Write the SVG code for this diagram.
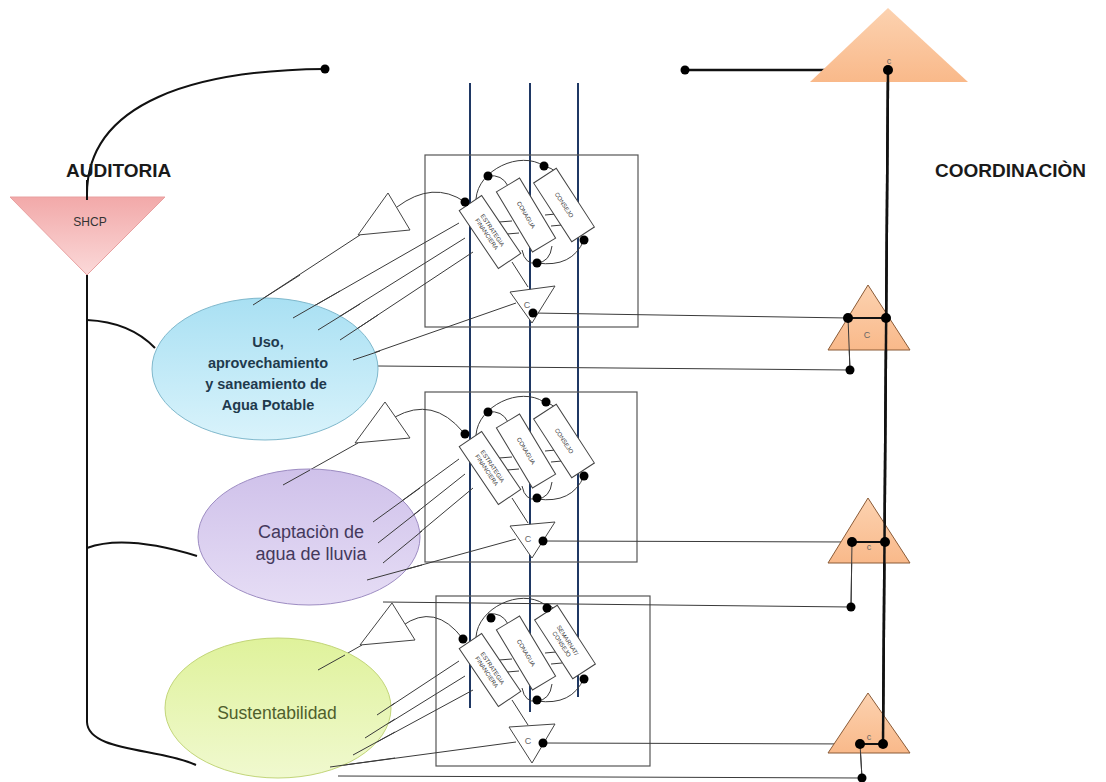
<svg xmlns="http://www.w3.org/2000/svg" width="1106" height="782" viewBox="0 0 1106 782">
  <defs>
    <linearGradient id="gPink" x1="0" y1="0" x2="0" y2="1">
      <stop offset="0" stop-color="#f2a9a9"/>
      <stop offset="1" stop-color="#fbd9d9"/>
    </linearGradient>
    <linearGradient id="gOrange" x1="0" y1="0" x2="0" y2="1">
      <stop offset="0" stop-color="#fcd2b0"/>
      <stop offset="1" stop-color="#f9b98a"/>
    </linearGradient>
    <linearGradient id="gBlue" x1="0" y1="0" x2="0" y2="1">
      <stop offset="0" stop-color="#a9e0f3"/>
      <stop offset="1" stop-color="#d9f3fb"/>
    </linearGradient>
    <linearGradient id="gPurple" x1="0" y1="0" x2="0" y2="1">
      <stop offset="0" stop-color="#cfc1ea"/>
      <stop offset="1" stop-color="#e6ddf5"/>
    </linearGradient>
    <linearGradient id="gGreen" x1="0" y1="0" x2="0" y2="1">
      <stop offset="0" stop-color="#dff29b"/>
      <stop offset="1" stop-color="#f0f9cf"/>
    </linearGradient>
    <style>
      .thin { fill: none; stroke: #3a3a3a; stroke-width: 1; }
      .thick { fill: none; stroke: #111; stroke-width: 2.5; }
      .mid { fill: none; stroke: #111; stroke-width: 2; }
      .axis { fill: none; stroke: #1f3864; stroke-width: 2; }
      .frame { fill: none; stroke: #555; stroke-width: 1.2; }
      .dot { fill: #000; }
      .card { fill: #fff; stroke: #444; stroke-width: 1; }
      .tri { fill: #fff; stroke: #444; stroke-width: 1; }
      .ctri { fill: url(#gOrange); stroke: #8a5a36; stroke-width: 1; }
      .cardtxt { font-family: "Liberation Sans", Arial, sans-serif; font-size: 6px; fill: #333; text-anchor: middle; }
      .head { font-family: "Liberation Sans", Arial, sans-serif; font-size: 19px; font-weight: bold; fill: #1a1a1a; }
      .small { font-family: "Liberation Sans", Arial, sans-serif; font-size: 9px; fill: #666; text-anchor: middle; }
    </style>
  </defs>

  <rect width="1106" height="782" fill="#ffffff"/>

  <!-- vertical axes crossing the three clusters -->
  <g id="axes">
    <line class="axis" x1="470" y1="83" x2="470" y2="708"/>
    <line class="axis" x1="530" y1="83" x2="530" y2="712"/>
    <line class="axis" x1="578" y1="83" x2="578" y2="697"/>
  </g>

  <!-- cluster frames -->
  <g id="frames">
    <rect class="frame" x="425" y="155" width="213" height="172"/>
    <rect class="frame" x="425" y="392" width="212" height="170"/>
    <rect class="frame" x="436" y="596" width="214" height="170"/>
  </g>

  <!-- connectors -->
  <g id="connectors">
    <!-- SHCP trunk and branches -->
    <path class="mid" d="M87,197 C85,100 200,70 325,69"/>
    <path class="mid" d="M87,275 V722 C88,752 160,748 196,765"/>
    <path class="mid" d="M87,320 Q130,322 155,348"/>
    <path class="mid" d="M87,548 Q125,534 197,556"/>
    <!-- coordination trunk -->
    <line class="thick" x1="685" y1="70" x2="888" y2="70"/>
    <line class="thick" x1="888" y1="70" x2="883" y2="744"/>
    <line class="mid" x1="848" y1="318" x2="887" y2="318"/>
    <line class="mid" x1="852" y1="542" x2="885" y2="542"/>
    <line class="mid" x1="860" y1="744" x2="883" y2="744"/>

    <!-- cluster 1 feeds -->
    <line class="thin" x1="253" y1="305" x2="360" y2="235"/>
    <line class="thin" x1="293" y1="318" x2="459" y2="223"/>
    <line class="thin" x1="318" y1="330" x2="465" y2="238"/>
    <line class="thin" x1="340" y1="340" x2="473" y2="252"/>
    <line class="thin" x1="353" y1="360" x2="516" y2="303"/>
    <path class="thin" d="M397,207 Q433,180 465,202"/>
    <line class="thin" x1="533" y1="313" x2="848" y2="318"/>
    <line class="thin" x1="378" y1="366" x2="850" y2="370"/>
    <line class="thin" x1="848" y1="318" x2="850" y2="370"/>

    <!-- cluster 2 feeds -->
    <line class="thin" x1="283" y1="485" x2="358" y2="443"/>
    <line class="thin" x1="373" y1="522" x2="459" y2="459"/>
    <line class="thin" x1="378" y1="543" x2="465" y2="474"/>
    <line class="thin" x1="383" y1="563" x2="473" y2="488"/>
    <line class="thin" x1="367" y1="580" x2="516" y2="539"/>
    <path class="thin" d="M395,417 Q433,396 463,432"/>
    <line class="thin" x1="543" y1="541" x2="852" y2="542"/>
    <line class="thin" x1="383" y1="602" x2="851" y2="607"/>
    <line class="thin" x1="852" y1="542" x2="851" y2="607"/>

    <!-- cluster 3 feeds -->
    <line class="thin" x1="318" y1="670" x2="362" y2="645"/>
    <line class="thin" x1="377" y1="715" x2="459" y2="661"/>
    <line class="thin" x1="365" y1="738" x2="465" y2="676"/>
    <line class="thin" x1="353" y1="755" x2="473" y2="690"/>
    <line class="thin" x1="330" y1="767" x2="516" y2="742"/>
    <path class="thin" d="M402,626 Q435,602 463,639"/>
    <line class="thin" x1="543" y1="743" x2="860" y2="744"/>
    <line class="thin" x1="338" y1="776" x2="862" y2="778"/>
    <line class="thin" x1="860" y1="744" x2="862" y2="778"/>
  </g>

  <!-- inner wiring of each cluster (drawn for cluster 1, reused by offset) -->
  <g id="wiring1">
    <path class="thin" d="M476,199 C478,170 520,150 544,166 Q552,168 556,172"/>
    <path class="thin" d="M488,176 Q502,174 508,186"/>
    <path class="thin" d="M537,263 Q572,268 584,240"/>
    <path class="thin" d="M522,250 Q525,265 537,263 Q550,262 552,246"/>
    <line class="thin" x1="512" y1="262" x2="528" y2="287"/>
    <line class="thin" x1="499" y1="222" x2="512" y2="221"/>
    <line class="thin" x1="507" y1="234" x2="519" y2="233"/>
    <line class="thin" x1="545" y1="215" x2="556" y2="214"/>
    <line class="thin" x1="551" y1="226" x2="562" y2="225"/>
  </g>
  <use href="#wiring1" transform="translate(0,236)"/>
  <use href="#wiring1" transform="translate(0,438)"/>

  <!-- cluster 1 -->
  <g id="cluster1">
    <polygon class="tri" points="388,193 358,235 410,230"/>
    <rect class="card" x="-35" y="-13.5" width="70" height="27" transform="translate(490,232) rotate(56)"/>
    <rect class="card" x="-35" y="-13.5" width="70" height="27" transform="translate(526,215) rotate(59)"/>
    <rect class="card" x="-35" y="-13.5" width="70" height="27" transform="translate(564,205) rotate(57)"/>
    <text class="cardtxt" transform="translate(490,232) rotate(56)"><tspan x="0" y="-1">ESTRATEGIA</tspan><tspan x="0" y="6">FINANCIERA</tspan></text>
    <text class="cardtxt" transform="translate(526,215) rotate(59)" y="2">CONAGUA</text>
    <text class="cardtxt" transform="translate(564,205) rotate(57)" y="2">CONSEJO</text>
    <polygon class="tri" points="510,292 555,286 532,323"/>
    <text class="small" x="527" y="308" fill="#444">C</text>
    <circle class="dot" cx="465" cy="202" r="4.5"/>
    <circle class="dot" cx="488" cy="176" r="4.5"/>
    <circle class="dot" cx="544" cy="166" r="4.5"/>
    <circle class="dot" cx="584" cy="240" r="4.5"/>
    <circle class="dot" cx="537" cy="263" r="4.5"/>
    <circle class="dot" cx="533" cy="313" r="4.5"/>
  </g>

  <!-- cluster 2 -->
  <g id="cluster2">
    <polygon class="tri" points="385,402 355,443 410,438"/>
    <g transform="translate(0,236)">
      <rect class="card" x="-35" y="-13.5" width="70" height="27" transform="translate(490,232) rotate(56)"/>
      <rect class="card" x="-35" y="-13.5" width="70" height="27" transform="translate(526,215) rotate(59)"/>
      <rect class="card" x="-35" y="-13.5" width="70" height="27" transform="translate(564,205) rotate(57)"/>
      <text class="cardtxt" transform="translate(490,232) rotate(56)"><tspan x="0" y="-1">ESTRATEGIA</tspan><tspan x="0" y="6">FINANCIERA</tspan></text>
      <text class="cardtxt" transform="translate(526,215) rotate(59)" y="2">CONAGUA</text>
      <text class="cardtxt" transform="translate(564,205) rotate(57)" y="2">CONSEJO</text>
      <polygon class="tri" points="510,290 555,286 532,322"/>
      <text class="small" x="528" y="306" fill="#444">C</text>
      <circle class="dot" cx="465" cy="198" r="4.5"/>
      <circle class="dot" cx="488" cy="176" r="4.5"/>
      <circle class="dot" cx="546" cy="166" r="4.5"/>
      <circle class="dot" cx="584" cy="240" r="4.5"/>
      <circle class="dot" cx="537" cy="262" r="4.5"/>
      <circle class="dot" cx="543" cy="305" r="4.5"/>
    </g>
  </g>

  <!-- cluster 3 -->
  <g id="cluster3">
    <polygon class="tri" points="392,603 360,645 415,640"/>
    <g transform="translate(0,438)">
      <rect class="card" x="-35" y="-13.5" width="70" height="27" transform="translate(490,232) rotate(56)"/>
      <rect class="card" x="-35" y="-13.5" width="70" height="27" transform="translate(526,215) rotate(59)"/>
      <rect class="card" x="-35" y="-13.5" width="70" height="27" transform="translate(565,204) rotate(57)"/>
      <text class="cardtxt" transform="translate(490,232) rotate(56)"><tspan x="0" y="-1">ESTRATEGIA</tspan><tspan x="0" y="6">FINANCIERA</tspan></text>
      <text class="cardtxt" transform="translate(526,215) rotate(59)" y="2">CONAGUA</text>
      <text class="cardtxt" transform="translate(565,204) rotate(57)"><tspan x="0" y="-1">SEMARNAT/</tspan><tspan x="0" y="6">CONSEJO</tspan></text>
      <polygon class="tri" points="509,289 555,286 532,325"/>
      <text class="small" x="528" y="306" fill="#444">C</text>
      <circle class="dot" cx="463" cy="201" r="4.5"/>
      <circle class="dot" cx="491" cy="180" r="4.5"/>
      <circle class="dot" cx="547" cy="170" r="4.5"/>
      <circle class="dot" cx="584" cy="241" r="4.5"/>
      <circle class="dot" cx="537" cy="262" r="4.5"/>
      <circle class="dot" cx="543" cy="305" r="4.5"/>
    </g>
  </g>

  <!-- audit node -->
  <g id="shcp">
    <polygon points="10,197 165,197 87,275" fill="url(#gPink)" stroke="#e8a0a0" stroke-width="1"/>
    <line class="mid" x1="87" y1="180" x2="87" y2="200"/>
    <text x="90" y="226" font-family="'Liberation Sans', Arial, sans-serif" font-size="12" fill="#333" text-anchor="middle">SHCP</text>
    <text class="head" x="66" y="177">AUDITORIA</text>
  </g>

  <!-- coordination nodes -->
  <g id="coordination">
    <polygon points="888,8 810,82 968,82" fill="url(#gOrange)"/>
    <text class="small" x="889" y="64" font-size="6">c</text>
    <text class="head" x="935" y="177">COORDINACIÒN</text>
  </g>
  <g id="coord1">
    <polygon class="ctri" points="868,285 828,350 910,350"/>
    <text class="small" x="867" y="338">C</text>
  </g>
  <g id="coord2">
    <polygon class="ctri" points="868,498 828,563 910,563"/>
    <text class="small" x="869" y="550">c</text>
  </g>
  <g id="coord3">
    <polygon class="ctri" points="868,693 828,753 910,753"/>
    <text class="small" x="869" y="740" font-size="7">c</text>
  </g>
  <!-- trunk redrawn over the coordination triangles -->
  <g id="trunk-front">
    <line class="thick" x1="888" y1="70" x2="883" y2="744"/>
    <line class="mid" x1="848" y1="318" x2="886" y2="318"/>
    <line class="mid" x1="852" y1="542" x2="885" y2="542"/>
    <line class="mid" x1="860" y1="744" x2="883" y2="744"/>
    <line class="thin" x1="848" y1="318" x2="850" y2="370"/>
    <line class="thin" x1="852" y1="542" x2="851" y2="607"/>
    <line class="thin" x1="860" y1="744" x2="862" y2="778"/>
    <circle class="dot" cx="325" cy="69" r="4.5"/>
    <circle class="dot" cx="685" cy="70" r="4.5"/>
    <circle class="dot" cx="888" cy="70" r="5"/>
    <circle class="dot" cx="848" cy="318" r="5"/>
    <circle class="dot" cx="886" cy="318" r="5"/>
    <circle class="dot" cx="850" cy="370" r="4.5"/>
    <circle class="dot" cx="852" cy="542" r="5"/>
    <circle class="dot" cx="885" cy="542" r="5"/>
    <circle class="dot" cx="851" cy="607" r="4.5"/>
    <circle class="dot" cx="860" cy="744" r="5"/>
    <circle class="dot" cx="883" cy="744" r="5"/>
    <circle class="dot" cx="862" cy="778" r="4.5"/>
  </g>

  <!-- program nodes -->
  <g id="agua-potable">
    <ellipse cx="265" cy="369" rx="113" ry="71" fill="url(#gBlue)" stroke="#7fb8cc" stroke-width="1"/>
    <g font-family="'Liberation Sans', Arial, sans-serif" font-size="14.5" font-weight="bold" fill="#1f3a4d" text-anchor="middle">
      <text x="268" y="347">Uso,</text>
      <text x="268" y="368">aprovechamiento</text>
      <text x="266" y="389">y saneamiento de</text>
      <text x="268" y="410">Agua Potable</text>
    </g>
  </g>
  <g id="lluvia">
    <ellipse cx="309" cy="537" rx="111" ry="68" fill="url(#gPurple)" stroke="#9d8cc2" stroke-width="1"/>
    <g font-family="'Liberation Sans', Arial, sans-serif" font-size="18" fill="#44395c" text-anchor="middle">
      <text x="311" y="538">Captaciòn de</text>
      <text x="311" y="560">agua de lluvia</text>
    </g>
  </g>
  <g id="sustentabilidad">
    <ellipse cx="278" cy="708" rx="113" ry="70" fill="url(#gGreen)" stroke="#c2d579" stroke-width="1"/>
    <text x="277" y="719" font-family="'Liberation Sans', Arial, sans-serif" font-size="17.5" fill="#4f5f2c" text-anchor="middle">Sustentabilidad</text>
  </g>

  <!-- feeds that start on the ellipse faces -->
  <g id="feeds-front">
    <line class="thin" x1="253" y1="305" x2="300" y2="275"/>
    <line class="thin" x1="293" y1="318" x2="340" y2="291"/>
    <line class="thin" x1="318" y1="330" x2="360" y2="304"/>
    <line class="thin" x1="340" y1="340" x2="378" y2="315"/>
    <line class="thin" x1="353" y1="360" x2="380" y2="351"/>
    <line class="thin" x1="283" y1="485" x2="310" y2="470"/>
    <line class="thin" x1="373" y1="522" x2="420" y2="488"/>
    <line class="thin" x1="378" y1="543" x2="420" y2="510"/>
    <line class="thin" x1="383" y1="563" x2="422" y2="531"/>
    <line class="thin" x1="367" y1="580" x2="422" y2="565"/>
    <line class="thin" x1="318" y1="670" x2="345" y2="655"/>
    <line class="thin" x1="377" y1="715" x2="395" y2="703"/>
    <line class="thin" x1="365" y1="738" x2="395" y2="719"/>
    <line class="thin" x1="353" y1="755" x2="395" y2="732"/>
    <line class="thin" x1="330" y1="767" x2="395" y2="758"/>
  </g>
</svg>
